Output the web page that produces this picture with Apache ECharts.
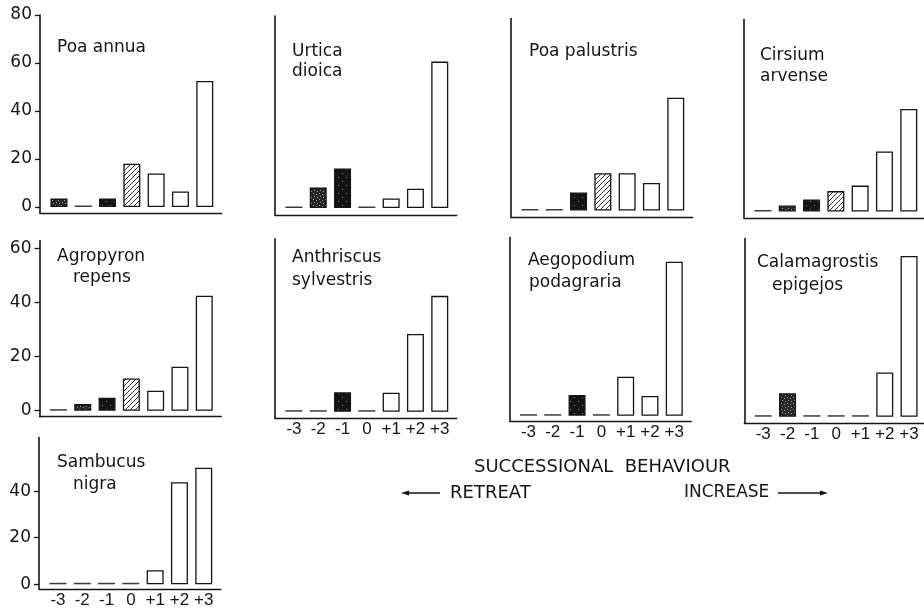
<!DOCTYPE html>
<html><head><meta charset="utf-8">
<script src="https://cdn.jsdelivr.net/npm/echarts@6/dist/echarts.min.js"></script>
<style>html,body{margin:0;padding:0;background:#fff}#c{width:924px;height:609px}</style>
</head><body><div id="c"></div><script>
// ---------- data ----------
const categories = ['-3', '-2', '-1', '0', '+1', '+2', '+3'];
const poaAnnua = [3.5, 0, 3.5, 18, 14, 6.5, 52.5];
const urticaDioica = [0, 8.5, 16.5, 0, 4, 8, 61];
const poaPalustris = [0, 0, 7.5, 15.5, 15.5, 11.5, 47];
const cirsiumArvense = [0, 2.5, 5, 8.5, 10.8, 25, 42.7];
const agropyronRepens = [0, 2.5, 4.8, 11.9, 7.4, 16.3, 42.6];
const anthriscusSylvestris = [0, 0, 7.2, 0, 7, 28.8, 42.9];
const aegopodiumPodagraria = [0, 0, 7.7, 0, 14.4, 7.3, 57];
const calamagrostisEpigejos = [0, 8.7, 0, 0, 0, 16.4, 59.5];
const sambucusNigra = [0, 0, 0, 0, 6, 43.8, 50];
const yTicksRow1 = [0, 20, 40, 60, 80];
const yTicksRow2 = [0, 20, 40, 60];
const yTicksRow3 = [0, 20, 40];
const speciesNames = [['Poa annua'], ['Urtica', 'dioica'], ['Poa palustris'], ['Cirsium', 'arvense'],
  ['Agropyron', 'repens'], ['Anthriscus', 'sylvestris'], ['Aegopodium', 'podagraria'],
  ['Calamagrostis', 'epigejos'], ['Sambucus', 'nigra']];
const seriesValues = [poaAnnua, urticaDioica, poaPalustris, cirsiumArvense, agropyronRepens,
  anthriscusSylvestris, aegopodiumPodagraria, calamagrostisEpigejos, sambucusNigra];
const axisTitle = 'SUCCESSIONAL  BEHAVIOUR';
const retreatText = 'RETREAT';
const increaseText = 'INCREASE';

// ---------- layout ----------
const layout = [
  {left: 40, zero: 207, max: 80, ppu: 2.4, off: 6, yTicks: yTicksRow1, xLab: false, text: [[57, 48], [57, 70]]},
  {left: 275, zero: 208, max: 80, ppu: 2.4, off: 7, yTicks: null, xLab: false, text: [[292, 52], [292, 72]]},
  {left: 511, zero: 210.5, max: 80, ppu: 2.4, off: 7, yTicks: null, xLab: false, text: [[529, 52], [529, 74]]},
  {left: 744, zero: 211.5, max: 80, ppu: 2.4, off: 6.5, yTicks: null, xLab: false, text: [[760, 56], [760, 77]]},
  {left: 39.5, zero: 410.7, max: 63, ppu: 2.7, off: 6, yTicks: yTicksRow2, xLab: false, text: [[57, 257], [73, 278]]},
  {left: 275, zero: 411.7, max: 64, ppu: 2.7, off: 6.5, yTicks: null, xLab: true, text: [[292, 258], [292, 281]]},
  {left: 509.5, zero: 415.7, max: 66, ppu: 2.7, off: 5.5, yTicks: null, xLab: true, text: [[528, 261], [529, 283]]},
  {left: 744.3, zero: 416.7, max: 66, ppu: 2.7, off: 6.3, yTicks: null, xLab: true, text: [[757, 263], [772, 286]]},
  {left: 39, zero: 584.3, max: 63, ppu: 2.33, off: 4.5, yTicks: yTicksRow3, xLab: true, text: [[57, 463], [73, 485]]}
];
const XMIN = -3.78, XMAX = 3.7, STEP = 24.3;
const INK = '#151515';

function mkCanvas(w, h, draw) { const c = document.createElement('canvas'); c.width = w; c.height = h; draw(c.getContext('2d')); return c; }
const hatch = mkCanvas(5, 5, g => {
  g.fillStyle = '#fff'; g.fillRect(0, 0, 5, 5);
  g.strokeStyle = '#333'; g.lineWidth = 1;
  g.beginPath(); g.moveTo(0, 5); g.lineTo(5, 0); g.moveTo(-1, 1); g.lineTo(1, -1); g.moveTo(4, 6); g.lineTo(6, 4); g.stroke();
});
const stipple = mkCanvas(6, 6, g => {
  g.fillStyle = '#262626'; g.fillRect(0, 0, 6, 6);
  g.fillStyle = '#9a9a9a'; [[1, 1], [4, 2], [2, 4], [5, 5]].forEach(p => g.fillRect(p[0], p[1], 1, 1));
});
const stippleDark = mkCanvas(8, 8, g => {
  g.fillStyle = '#141414'; g.fillRect(0, 0, 8, 8);
  g.fillStyle = '#7a7a7a'; [[2, 1], [6, 5]].forEach(p => g.fillRect(p[0], p[1], 1, 1));
});
const fills = [{image: stipple, repeat: 'repeat'}, {image: stipple, repeat: 'repeat'}, {image: stippleDark, repeat: 'repeat'},
  {image: hatch, repeat: 'repeat'}, '#fff', '#fff', '#fff'];

const grids = [], xAxes = [], yAxes = [], series = [], graphics = [];
layout.forEach((L, i) => {
  const width = (XMAX - XMIN) * STEP;
  grids.push({left: L.left, top: L.zero - L.max * L.ppu, width: width, height: L.max * L.ppu + L.off, containLabel: false, outerBoundsMode: 'none'});
  xAxes.push({
    type: 'value', gridIndex: i, min: XMIN, max: XMAX,
    axisLine: {show: true, onZero: false, lineStyle: {color: INK, width: 1.3}},
    axisTick: {show: false}, splitLine: {show: false},
    axisLabel: {show: L.xLab, customValues: categories.map(c => parseInt(c, 10)),
      formatter: v => categories[categories.map(c => parseInt(c, 10)).indexOf(v)] || '',
      color: INK, fontFamily: 'Liberation Sans', fontSize: 17, margin: 3}
  });
  yAxes.push({
    type: 'value', gridIndex: i, min: -L.off / L.ppu, max: L.max,
    axisLine: {show: true, onZero: false, lineStyle: {color: INK, width: 1.6}},
    axisTick: L.yTicks ? {show: true, customValues: L.yTicks, length: 5, lineStyle: {color: INK, width: 1.3}} : {show: false},
    axisLabel: L.yTicks ? {show: true, customValues: L.yTicks, color: INK, fontFamily: 'DejaVu Sans', fontSize: 17, margin: 8} : {show: false},
    splitLine: {show: false}
  });
  series.push({
    type: 'bar', xAxisIndex: i, yAxisIndex: i, barWidth: 17, barMinHeight: 1.5, animation: false,
    data: seriesValues[i].map((v, k) => ({
      value: [parseInt(categories[k], 10), v],
      itemStyle: v === 0 ? {color: '#3a3a3a', borderWidth: 0} : {color: fills[k], borderColor: INK, borderWidth: 1.3}
    }))
  });
  speciesNames[i].forEach((t, j) => {
    graphics.push({type: 'text', x: L.text[j][0], y: L.text[j][1],
      style: {text: t, fill: INK, font: '17px "DejaVu Sans"', textAlign: 'left', textVerticalAlign: 'middle'}});
  });
});

const txtStyle = (t, x, y, fs) => ({type: 'text', x: x, y: y, style: {text: t, fill: INK, font: fs + 'px "DejaVu Sans"', textAlign: 'left', textVerticalAlign: 'middle'}});
graphics.push(txtStyle(axisTitle, 474, 467, 18));
graphics.push(txtStyle(retreatText, 450, 493, 18));
graphics.push(txtStyle(increaseText, 684, 493, 17));
graphics.push({type: 'line', shape: {x1: 404, y1: 493, x2: 440, y2: 493}, style: {stroke: INK, lineWidth: 1.3}});
graphics.push({type: 'polygon', shape: {points: [[401, 493], [409, 490.5], [409, 495.5]]}, style: {fill: INK}});
graphics.push({type: 'line', shape: {x1: 778, y1: 493, x2: 824, y2: 493}, style: {stroke: INK, lineWidth: 1.3}});
graphics.push({type: 'polygon', shape: {points: [[828, 493], [820, 490.5], [820, 495.5]]}, style: {fill: INK}});

const chart = echarts.init(document.getElementById('c'), null, {renderer: 'canvas'});
chart.setOption({
  backgroundColor: '#fff', animation: false,
  grid: grids, xAxis: xAxes, yAxis: yAxes, series: series,
  graphic: {elements: graphics}
});
</script></body></html>
